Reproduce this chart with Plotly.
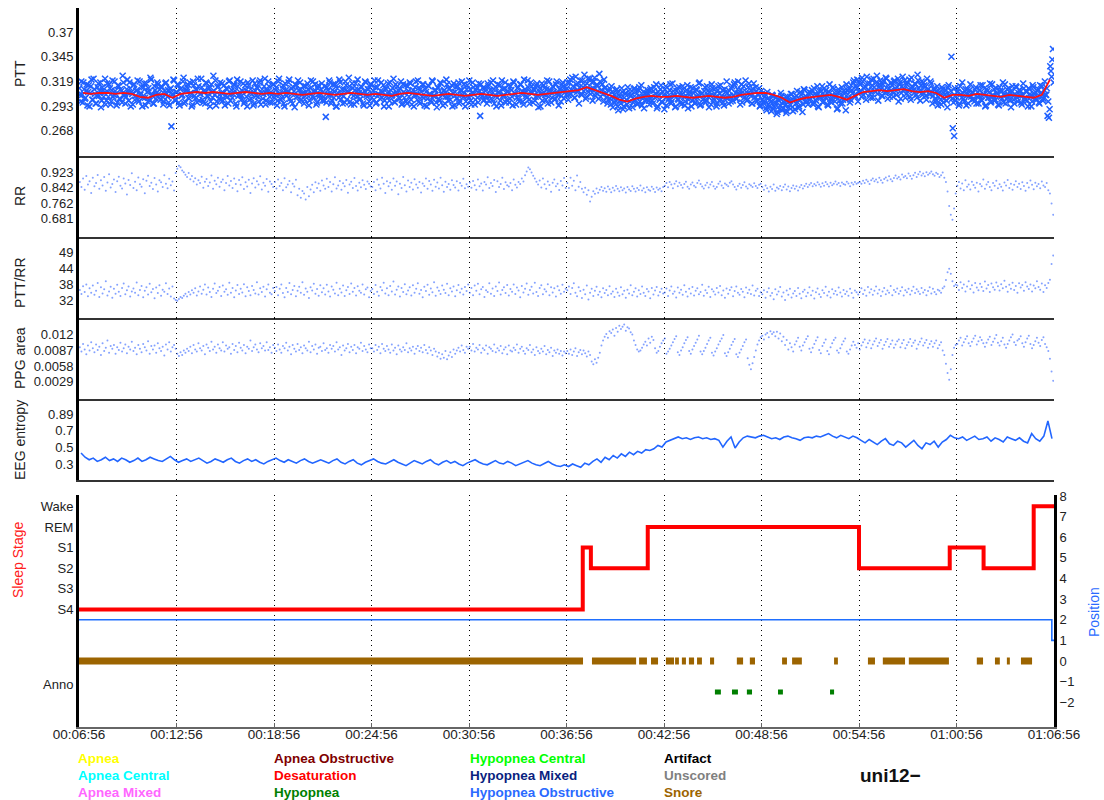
import plotly.graph_objects as go
from datetime import datetime, timedelta

# Recording window: one hour starting at 00:06:56
START = datetime(2000, 1, 1, 0, 6, 56)
SPAN_S = 3600

# Pulse transit time per beat (ms), odd beats
ptt_ms = [
    312,298,305,318,301,309,294,315,307,321,300,311,296,304,317,309,292,313,303,322,299,308,316,295,310,303,319,306,297,314,
    301,309,325,304,296,311,307,318,293,306,315,300,309,320,298,305,313,302,317,294,308,312,299,321,304,296,310,307,316,302,
    300,313,295,309,318,303,297,311,272,306,320,299,308,315,294,312,305,323,298,310,316,301,307,293,319,304,311,297,314,306,
    322,300,309,296,317,303,312,298,308,325,305,294,313,301,318,307,299,315,304,311,296,320,306,302,316,309,293,314,305,319,
    304,317,298,310,293,315,307,301,320,296,309,313,303,318,295,311,306,322,299,308,314,297,305,316,302,310,294,319,307,300,
    312,296,317,304,309,321,298,306,313,292,315,303,310,318,300,307,296,314,305,311,299,320,303,309,316,295,312,306,301,317,
    308,299,282,313,305,318,296,310,302,316,293,307,321,300,311,304,297,315,309,323,298,306,312,295,317,303,310,300,314,307,
    294,319,305,311,298,316,302,309,320,296,313,306,301,318,308,293,312,304,317,299,310,305,322,297,308,314,302,311,295,316,
    302,315,296,309,318,300,307,293,313,305,320,298,311,303,316,294,308,301,314,306,297,319,304,310,292,312,299,317,305,309,
    296,321,303,311,300,315,307,294,313,302,318,298,309,305,316,293,311,304,320,299,307,313,295,310,302,317,283,306,312,300,
    309,296,314,303,318,300,311,305,293,316,307,299,320,304,312,297,308,315,301,310,294,318,306,302,313,298,316,309,295,311,
    304,320,300,308,314,297,310,303,317,292,312,306,299,315,305,311,296,319,308,302,313,300,316,307,294,311,304,318,301,310,
    312,300,318,306,323,309,302,316,310,296,320,305,313,326,301,317,308,322,311,299,319,304,315,309,327,303,316,298,312,307,
    296,309,301,314,292,305,299,311,289,303,296,308,293,306,300,313,291,304,309,297,312,302,295,310,298,315,303,291,307,300,
    306,295,312,299,309,302,316,293,305,311,298,308,290,314,303,300,310,296,317,304,292,309,301,313,297,306,311,294,304,315,
    300,308,293,312,302,297,310,305,318,295,307,301,313,299,309,292,304,316,298,311,303,296,314,306,300,310,294,308,319,302,
    309,298,314,304,318,301,311,306,295,316,308,302,320,299,313,305,310,296,317,303,309,300,312,294,306,298,303,291,308,295,
    300,288,304,293,297,285,301,290,307,289,298,294,286,303,292,299,306,288,302,296,309,291,300,305,287,311,298,303,295,308,
    301,310,295,306,299,314,292,304,309,297,312,302,307,294,316,300,305,311,298,303,291,308,296,313,300,306,289,310,302,297,
    315,307,320,303,312,298,318,309,323,305,314,300,317,310,306,321,302,313,308,325,299,316,311,304,319,307,322,301,312,309,
    315,303,320,309,313,298,318,307,324,311,302,316,308,321,300,314,310,317,305,326,312,299,319,308,315,304,322,311,306,317,
    296,312,301,309,294,307,300,313,297,305,310,292,315,303,345,270,262,299,308,312,296,306,318,301,309,294,311,304,316,300,
    307,298,313,303,296,310,300,315,305,293,311,302,308,297,316,304,299,312,306,294,309,301,318,305,296,311,303,308,292,314,
    300,306,313,298,310,304,295,317,302,309,299,312,306,293,315,303,308,300,311,296,307,314,301,319,305,283,281,335,324,353,
]

# Pulse transit time per beat (ms), even beats
ptt_ms_even = [
    305,319,297,311,302,316,308,293,314,300,322,306,296,313,304,318,299,310,307,295,317,303,312,298,320,305,309,294,315,301,
    311,297,318,306,303,321,299,312,308,295,316,304,310,300,319,307,293,313,302,317,298,309,323,305,296,314,301,318,306,311,
    314,303,298,317,306,310,294,312,305,321,300,308,316,297,311,304,319,296,309,313,302,318,307,295,315,301,310,322,299,306,
    313,297,308,318,304,311,293,316,302,309,320,298,314,305,300,317,307,294,312,303,319,299,310,306,315,296,321,304,308,300,
    309,296,315,303,318,300,311,306,294,317,304,312,298,320,307,301,314,295,310,319,303,308,297,316,305,313,299,322,306,302,
    315,293,310,307,318,301,312,296,309,316,303,320,298,311,305,314,300,308,317,294,312,306,319,302,309,297,315,304,311,299,
    303,314,297,310,320,305,299,316,308,293,312,302,318,306,296,311,319,300,308,314,295,317,304,310,298,321,307,301,313,296,
    309,318,303,311,294,316,306,300,313,297,320,305,309,302,315,299,311,307,293,318,304,312,298,316,306,310,301,319,296,308,
    307,298,314,303,317,295,310,305,319,300,312,296,308,316,302,311,293,315,306,299,320,304,309,297,313,301,318,307,294,310,
    303,316,299,312,305,293,317,308,301,314,296,310,319,303,307,298,315,302,311,295,318,306,300,313,297,309,316,304,299,312,
    304,317,299,310,306,320,296,313,302,308,315,294,311,305,318,300,309,297,314,303,319,307,295,312,301,316,306,298,321,308,
    302,313,296,318,307,311,299,315,304,309,293,317,306,312,300,320,303,310,297,314,308,301,319,305,311,298,316,309,313,305,
    318,305,321,310,314,302,324,308,317,313,306,320,309,315,303,322,311,306,318,312,323,307,314,301,319,310,306,321,313,303,
    300,312,295,308,302,297,310,293,305,299,312,290,302,307,295,309,298,304,292,311,300,306,296,313,303,294,308,299,305,310,
    299,310,303,296,313,306,291,308,300,315,297,305,311,294,307,302,316,298,309,304,293,312,300,306,295,314,303,298,310,291,
    305,313,299,307,296,311,302,317,294,306,300,309,297,314,303,308,295,312,301,306,293,310,299,315,304,297,311,302,307,296,
    304,312,299,316,307,301,319,305,310,297,314,303,308,300,317,306,296,311,302,313,298,305,293,309,300,296,306,289,301,293,
    298,305,290,296,302,287,299,294,304,291,297,303,288,300,295,306,292,299,290,304,297,293,308,301,295,310,303,298,306,300,
    307,296,312,300,305,293,309,302,314,298,304,310,295,308,301,297,313,303,306,290,311,299,304,296,309,301,316,306,311,300,
    310,318,305,314,321,308,316,303,319,312,307,324,310,317,302,315,322,309,318,306,313,320,304,316,310,323,308,315,303,318,
    308,319,312,305,322,316,301,314,309,320,306,318,311,303,323,313,307,316,302,320,309,315,305,318,313,300,311,306,319,308,
    304,310,298,314,303,308,295,311,301,306,299,313,305,309,301,297,312,303,308,294,314,302,307,298,311,305,296,310,303,308,
    301,311,296,308,304,315,299,306,312,294,309,302,317,298,305,311,300,307,295,313,303,309,297,316,301,306,312,299,308,304,
    296,314,302,307,310,297,305,312,300,308,293,311,304,298,313,306,301,309,297,315,303,299,310,305,312,298,290,330,342,318,
]

# Running PTT trend (ms), one value per 30 s
ptt_trend_ms = [
    307,306,307,307,306,307,306,303,302,305,306,302,
    306,307,308,307,308,307,306,307,308,307,306,307,
    306,307,306,305,306,307,306,305,306,307,306,305,
    306,305,304,306,307,306,305,304,305,306,305,304,
    305,306,305,304,305,306,307,306,305,306,307,308,
    309,310,313,310,307,304,300,298,301,303,304,303,
    303,304,303,302,303,304,303,302,303,305,306,307,
    307,305,302,297,300,302,303,304,305,303,300,304,
    308,309,310,309,310,311,309,308,309,307,302,305,
    305,304,306,305,304,303,305,304,303,302,305,321,
]

# Beat-to-beat RR interval (ms)
rr_ms = [
    871,845,889,832,902,858,876,815,893,849,866,908,837,880,854,897,826,869,912,843,861,884,820,875,899,852,838,890,864,807,
    882,856,917,841,873,829,895,860,847,886,813,878,904,851,867,835,892,858,823,881,870,846,906,862,839,888,855,874,828,918,
    940,956,948,931,922,909,897,918,886,903,874,891,858,880,866,899,842,873,887,851,869,905,836,878,860,893,847,871,884,829,
    866,902,853,877,840,889,861,824,882,857,896,835,870,848,883,815,864,891,843,876,858,901,833,868,852,887,821,874,861,846,
    872,838,885,851,866,829,891,844,859,877,818,862,848,883,803,836,790,825,812,781,846,798,833,857,819,870,841,864,826,879,
    853,837,888,846,871,823,860,896,838,854,877,831,865,849,882,816,858,873,840,892,851,827,868,844,880,857,835,874,862,848,
    846,871,829,884,857,838,893,862,815,876,849,867,831,889,852,874,808,863,841,897,855,823,879,846,868,833,886,859,842,872,
    817,864,851,890,836,877,858,826,883,847,869,838,894,855,821,873,845,861,832,881,856,843,875,827,866,852,888,839,860,847,
    869,842,877,855,831,885,849,864,827,872,858,896,840,866,851,882,820,875,846,861,893,835,870,855,848,866,829,884,857,843,
    872,861,889,874,907,926,946,938,921,904,889,873,858,879,843,890,860,837,874,856,821,868,884,849,863,830,877,854,892,841,
    866,841,893,852,878,829,905,847,871,836,818,842,806,829,771,795,824,811,838,816,832,845,826,839,821,848,834,819,842,827,
    851,836,824,844,829,838,817,846,833,825,849,837,822,841,830,853,827,839,818,844,832,826,847,835,820,843,831,838,824,846,
    852,866,844,871,858,839,863,875,849,868,856,842,861,873,847,836,858,869,852,844,866,879,861,848,838,855,867,843,859,872,
    850,837,846,862,874,853,841,864,857,849,868,876,859,845,833,851,863,842,856,870,848,838,860,854,846,865,851,840,857,862,
    846,831,854,839,822,847,835,858,826,843,837,851,829,845,859,833,848,824,841,853,836,849,827,844,856,838,851,863,845,857,
    866,849,861,854,870,858,847,865,852,871,860,848,867,855,862,874,858,866,851,869,861,857,873,864,850,868,859,872,863,868,
    871,862,878,866,883,874,861,880,889,876,884,870,893,881,868,887,895,879,901,886,875,892,905,889,898,884,910,896,903,891,
    915,902,888,907,919,898,911,924,905,916,901,922,909,917,926,912,904,920,913,898,907,921,894,871,823,748,702,676,735,812,
    852,871,838,864,829,880,847,859,833,873,856,842,867,823,861,849,884,836,858,871,845,829,866,852,878,839,860,847,827,869,
    854,882,840,863,831,857,875,846,862,835,870,851,826,866,843,879,857,834,868,849,861,839,874,853,845,866,829,812,760,702,
]

# PTT / RR ratio (per mille of RR, shown in percent)
ptt_rr_permille = [
    362,348,375,355,381,340,368,352,377,345,359,386,338,371,350,364,392,343,357,373,335,366,349,380,356,341,369,384,347,361,
    374,339,357,367,352,388,344,362,376,337,359,371,346,383,354,365,333,370,351,378,342,363,356,385,348,367,339,374,332,327,
    325,331,338,334,342,349,339,355,346,361,352,368,343,357,374,349,363,381,346,370,355,338,366,384,351,359,372,341,377,356,
    364,345,387,352,369,337,360,379,348,366,353,382,340,371,358,344,376,362,350,389,346,368,355,373,339,364,381,352,347,369,
    358,372,344,366,381,351,337,369,355,386,347,362,376,340,359,373,352,389,345,367,356,334,371,360,383,349,365,342,378,354,
    368,346,380,357,339,374,363,350,387,344,366,353,377,341,361,372,348,384,356,369,343,375,359,352,381,346,364,370,337,358,
    365,348,379,356,342,372,361,387,350,368,344,376,357,391,346,363,374,339,369,355,382,347,360,371,343,378,352,366,385,349,
    362,337,373,358,380,345,367,354,389,342,370,359,348,377,363,351,383,344,368,357,374,340,361,379,353,366,346,372,358,381,
    352,369,344,377,359,383,347,364,372,338,361,355,385,349,367,341,374,358,388,346,362,371,351,379,343,365,356,381,348,370,
    360,337,376,353,366,384,345,362,373,350,387,355,341,369,378,347,364,357,382,344,371,353,368,339,375,361,349,380,356,366,
    361,374,348,369,385,352,340,371,358,334,363,347,377,329,352,366,341,359,373,345,356,337,368,351,362,344,375,349,357,338,
    366,353,342,371,347,359,335,363,350,378,344,356,368,339,361,348,374,352,341,365,357,333,369,346,360,372,343,355,366,350,
    353,367,341,360,374,349,357,336,370,352,363,345,378,356,339,366,350,372,343,359,368,347,355,380,342,361,351,373,338,364,
    357,346,369,353,376,344,360,335,367,349,362,371,340,358,374,352,345,365,356,337,370,351,363,348,377,343,359,366,341,354,
    347,361,335,355,368,342,351,330,364,346,357,372,339,353,327,360,345,366,336,350,358,341,369,349,333,356,363,340,352,371,
    344,359,332,354,367,347,338,361,351,373,343,356,336,364,349,358,345,370,353,339,362,348,357,342,366,351,335,360,354,346,
    356,368,348,361,342,372,353,364,345,359,374,350,363,341,357,369,347,360,352,376,344,362,355,367,349,358,371,343,361,354,
    366,346,359,373,351,364,357,348,369,353,362,344,358,371,350,366,355,347,363,359,352,368,374,396,423,435,418,392,376,381,
    377,362,389,369,381,357,374,392,365,378,353,386,370,361,383,372,358,391,367,379,355,384,371,363,388,375,360,382,368,394,
    373,356,380,366,387,362,376,352,385,370,379,359,389,374,365,381,357,377,368,392,372,363,384,355,378,369,386,397,452,481,
]

# PPG pulse area (x 1e-4)
ppg_area_e4 = [
    92,84,98,88,79,95,86,101,90,83,97,87,93,78,99,85,91,104,82,94,89,96,80,92,87,100,84,90,97,81,
    93,88,102,85,91,79,96,89,83,98,92,86,103,80,94,88,95,82,99,90,85,93,77,97,88,101,84,92,96,89,
    80,76,83,78,86,82,89,85,93,81,96,88,84,99,90,86,94,79,97,91,85,102,88,93,82,97,90,86,101,84,
    95,89,92,80,98,87,94,83,100,91,86,96,81,93,89,104,85,92,97,88,83,99,90,94,86,101,87,92,82,96,
    91,85,97,88,82,94,90,100,86,93,79,96,89,84,98,87,92,81,95,90,86,102,83,94,88,97,80,91,93,85,
    99,87,90,82,96,89,94,84,101,88,92,78,95,86,90,98,83,93,87,96,81,92,89,100,85,94,88,83,97,90,
    90,84,96,87,93,81,98,89,85,94,88,82,97,86,91,79,95,88,84,92,87,99,83,90,86,93,80,89,94,85,
    91,83,96,87,81,92,86,78,89,84,75,82,71,79,73,85,70,77,83,74,88,80,86,91,84,95,87,82,93,89,
    93,86,98,84,91,88,96,82,90,87,95,80,92,89,85,97,83,90,86,94,81,88,92,79,95,86,84,91,87,97,
    82,89,93,85,80,90,87,96,83,88,78,92,85,81,89,84,94,79,87,83,91,76,86,82,88,80,85,77,84,81,
    85,80,88,78,84,90,76,83,87,79,86,81,75,84,78,66,61,70,64,73,82,95,104,111,116,109,121,118,124,113,
    127,120,131,125,129,133,122,128,126,119,115,104,96,88,84,86,91,97,102,95,108,100,111,105,90,82,85,93,99,104,
    108,80,84,89,95,101,107,112,83,78,86,92,99,105,110,85,80,88,94,100,106,113,84,79,85,91,98,104,109,82,
    77,84,90,97,103,108,114,81,76,83,89,96,102,107,79,74,82,88,94,101,106,72,60,52,63,74,86,97,104,110,
    113,106,115,118,110,121,116,119,112,120,108,117,103,111,96,105,88,99,92,84,97,103,109,93,86,95,101,107,112,89,
    83,91,98,104,110,87,81,94,100,106,85,79,92,99,105,109,86,82,90,97,103,108,84,80,88,95,102,96,91,99,
    88,95,101,106,92,99,104,90,97,103,108,94,100,105,89,96,102,107,93,98,104,91,97,103,106,92,99,105,90,96,
    101,107,94,100,104,89,97,102,108,95,100,105,91,98,103,93,99,104,90,96,101,86,78,62,45,33,52,78,91,96,
    98,104,109,95,101,107,112,99,94,102,108,113,97,103,110,105,99,93,100,106,111,96,102,108,114,100,95,103,109,97,
    91,98,104,110,115,101,96,104,107,112,99,93,101,108,113,98,90,96,103,109,100,94,105,110,98,92,85,71,48,31,
]

# EEG spectral entropy (x 0.01), one value per 15 s
eeg_entropy_pct = [
    43,38,35,37,33,35,38,34,36,33,37,35,32,34,37,33,35,38,36,34,33,36,39,35,32,34,36,33,35,37,
    34,31,33,36,34,32,35,37,33,31,34,36,33,35,32,30,33,35,37,34,32,35,33,31,34,36,33,31,33,35,
    33,31,34,36,32,30,33,35,31,29,32,34,36,33,31,30,33,35,32,30,28,31,34,32,30,33,35,31,29,32,
    34,31,33,30,28,31,33,35,32,30,29,32,34,31,30,33,31,28,30,32,34,31,29,28,31,33,30,28,27,29,
    27,30,28,26,31,29,33,36,32,38,35,40,37,42,39,44,41,45,43,47,46,48,52,50,56,58,60,62,60,61,
    59,61,62,60,61,59,60,58,50,57,62,49,56,61,63,62,61,63,64,62,60,61,59,62,63,61,60,58,61,62,
    61,63,62,64,66,63,61,64,62,60,63,61,58,55,59,56,53,57,60,54,52,57,55,50,54,58,52,48,55,53,
    57,50,56,59,64,61,60,62,58,61,63,59,60,62,57,61,59,56,62,60,58,61,57,55,66,60,57,63,81,60,
]

# Hypnogram (seconds from start)
stage_names = ["S4", "S1", "S2", "REM", "S2", "S1", "S2", "Wake"]
stage_start_s = [0, 1860, 1890, 2100, 2880, 3215, 3340, 3525]
stage_axis_labels = ["Wake", "REM", "S1", "S2", "S3", "S4", "Anno"]

# Body position channel
position_values = [2, 1]
position_start_s = [0, 3592]

# Scored events (seconds from start)
snore_start_s = [0, 1894, 2068, 2112, 2167, 2201, 2226, 2252, 2282, 2330, 2429, 2477, 2596, 2633, 2788, 2913, 2968, 3064, 3315, 3382, 3426, 3478]
snore_end_s = [1861, 2057, 2097, 2138, 2197, 2215, 2241, 2271, 2300, 2345, 2452, 2496, 2614, 2669, 2802, 2939, 3050, 3212, 3338, 3400, 3437, 3519]
hypopnea_start_s = [2348, 2411, 2466, 2581, 2773]
hypopnea_end_s = [2370, 2433, 2485, 2599, 2788]

# Event colour key
event_labels = [
    "Apnea", "Apnea Central", "Apnea Mixed",
    "Apnea Obstructive", "Desaturation", "Hypopnea",
    "Hypopnea Central", "Hypopnea Mixed", "Hypopnea Obstructive",
    "Artifact", "Unscored", "Snore",
]
event_colors = [
    "#ffff00", "#00ffff", "#ff66ff",
    "#800000", "#ff0000", "#007f00",
    "#00ff00", "#0a1f80", "#2a6aff",
    "#000000", "#808080", "#9c6400",
]
record_name = "uni12\u2212"

# ---------------------------------------------------------------- helpers
FONT = "Liberation Sans, Arial, sans-serif"
W, H = 1104, 800
X_LEFT, X_RIGHT = 79, 1054


def at(sec):
    return START + timedelta(seconds=sec)


def even_times(n, shift=0.5):
    return [at((i + shift) * SPAN_S / n) for i in range(n)]


def ydom(top_px, bottom_px):
    return [1 - bottom_px / H, 1 - top_px / H]


def boxes(starts, ends, level, half):
    xs, ys = [], []
    for s, e in zip(starts, ends):
        xs += [at(s), at(e), at(e), at(s), at(s), None]
        ys += [level - half, level - half, level + half, level + half, level - half, None]
    return xs, ys


stage_level = {"Wake": 7.5, "REM": 6.5, "S1": 5.5, "S2": 4.5, "S3": 3.5, "S4": 2.5}

fig = go.Figure()

# PTT scatter (both beat streams) and trend
cross = dict(symbol="x-thin", size=6, line=dict(width=1.5, color="#1f60ff"))
fig.add_trace(go.Scatter(x=even_times(len(ptt_ms), 0.25), y=[v / 1000 for v in ptt_ms], mode="markers",
                         marker=cross, xaxis="x2", yaxis="y2", hoverinfo="skip"))
fig.add_trace(go.Scatter(x=even_times(len(ptt_ms_even), 0.75), y=[v / 1000 for v in ptt_ms_even], mode="markers",
                         marker=cross, xaxis="x2", yaxis="y2", hoverinfo="skip"))
fig.add_trace(go.Scatter(
    x=even_times(len(ptt_trend_ms)), y=[v / 1000 for v in ptt_trend_ms], mode="lines",
    line=dict(color="#ff1010", width=1.8), xaxis="x2", yaxis="y2", hoverinfo="skip"))

dot = dict(size=2, color="rgba(50,100,255,0.6)")
fig.add_trace(go.Scatter(x=even_times(len(rr_ms)), y=[v / 1000 for v in rr_ms], mode="markers",
                         marker=dot, xaxis="x3", yaxis="y3", hoverinfo="skip"))
fig.add_trace(go.Scatter(x=even_times(len(ptt_rr_permille)), y=[v / 10 for v in ptt_rr_permille], mode="markers",
                         marker=dot, xaxis="x4", yaxis="y4", hoverinfo="skip"))
fig.add_trace(go.Scatter(x=even_times(len(ppg_area_e4)), y=[v / 10000 for v in ppg_area_e4], mode="markers",
                         marker=dot, xaxis="x5", yaxis="y5", hoverinfo="skip"))
fig.add_trace(go.Scatter(x=even_times(len(eeg_entropy_pct)), y=[v / 100 for v in eeg_entropy_pct], mode="lines",
                         line=dict(color="#2266ff", width=1.6), xaxis="x6", yaxis="y6", hoverinfo="skip"))

# Bottom panel: events, position, hypnogram
sx, sy = boxes(snore_start_s, snore_end_s, 0, 0.17)
fig.add_trace(go.Scatter(x=sx, y=sy, mode="lines", fill="toself", fillcolor="#9c6400",
                         line=dict(width=0, color="#9c6400"), xaxis="x", yaxis="y", hoverinfo="skip"))
hx, hy = boxes(hypopnea_start_s, hypopnea_end_s, -1.5, 0.12)
fig.add_trace(go.Scatter(x=hx, y=hy, mode="lines", fill="toself", fillcolor="#007f00",
                         line=dict(width=0, color="#007f00"), xaxis="x", yaxis="y", hoverinfo="skip"))
fig.add_trace(go.Scatter(
    x=[at(s) for s in position_start_s] + [at(SPAN_S)],
    y=position_values + [position_values[-1]], mode="lines", line=dict(color="#1f6fff", width=1.6, shape="hv"),
    xaxis="x", yaxis="y", hoverinfo="skip"))
fig.add_trace(go.Scatter(
    x=[at(s) for s in stage_start_s] + [at(SPAN_S)],
    y=[stage_level[n] for n in stage_names] + [stage_level[stage_names[-1]]],
    mode="lines", line=dict(color="#ff0000", width=4, shape="hv"), xaxis="x", yaxis="y", hoverinfo="skip"))

# ---------------------------------------------------------------- axes
xdom = [X_LEFT / W, X_RIGHT / W]
tickfont = dict(family=FONT, size=13, color="#222222")
grid = dict(showgrid=True, gridcolor="#000000", gridwidth=1, griddash="1px,4px",
            tick0=START, dtick=360000, type="date", automargin=False)

layout = dict(
    width=W, height=H, margin=dict(l=0, r=0, t=0, b=0, autoexpand=False),
    paper_bgcolor="white", plot_bgcolor="white", showlegend=False,
    font=dict(family=FONT, size=13, color="#222222"),
)

layout["xaxis"] = dict(domain=xdom, anchor="y", range=[START, at(SPAN_S)], tickformat="%H:%M:%S",
                       showline=True, linecolor="#666666", linewidth=2, ticks="inside", ticklen=4,
                       tickcolor="#666666", tickfont=dict(family=FONT, size=13.5, color="#222222"),
                       ticklabelstandoff=-6, zeroline=False, **grid)

panels = [(8, 156), (156, 237), (237, 318), (318, 399), (399, 480)]
yspecs = [
    dict(range=[0.241, 0.396], tickvals=[0.268, 0.293, 0.319, 0.345, 0.37],
         ticktext=["0.268", "0.293", "0.319", "0.345", "0.37"]),
    dict(range=[0.587, 1.006], tickvals=[0.681, 0.762, 0.842, 0.923],
         ticktext=["0.681", "0.762", "0.842", "0.923"]),
    dict(range=[26.5, 54.5], tickvals=[32.4, 38.0, 43.7, 49.3], ticktext=["32", "38", "44", "49"]),
    dict(range=[-0.0002, 0.0145], tickvals=[0.0029, 0.0058, 0.0087, 0.0116],
         ticktext=["0.0029", "0.0058", "0.0087", "0.012"]),
    dict(range=[0.11, 1.07], tickvals=[0.3, 0.497, 0.694, 0.891], ticktext=["0.3", "0.5", "0.7", "0.89"]),
]
for i, ((top, bot), spec) in enumerate(zip(panels, yspecs), start=2):
    layout[f"xaxis{i}"] = dict(domain=xdom, anchor=f"y{i}", matches="x", showticklabels=False,
                               showline=True, linecolor="#333333", linewidth=1.5, ticks="",
                               zeroline=False, **grid)
    layout[f"yaxis{i}"] = dict(domain=ydom(top, bot), anchor=f"x{i}", showgrid=False, zeroline=False,
                               showline=True, linecolor="#000000", linewidth=3, ticks="",
                               automargin=False, tickmode="array", tickfont=tickfont, **spec)

bottom_range = [-3.2, 8.05]
layout["yaxis"] = dict(domain=ydom(495, 727), anchor="x", range=bottom_range, showgrid=False, zeroline=False,
                       showline=True, linecolor="#000000", linewidth=3, ticks="", tickfont=tickfont,
                       automargin=False, tickmode="array", tickvals=[7.5, 6.5, 5.5, 4.5, 3.5, 2.5, -1.15],
                       ticktext=stage_axis_labels)
layout["yaxis7"] = dict(domain=ydom(495, 727), anchor="x", overlaying="y", side="right", range=bottom_range,
                        showgrid=False, zeroline=False, showline=True, linecolor="#000000", linewidth=3,
                        automargin=False, ticks="", tickfont=tickfont, tickmode="array",
                        tickvals=list(range(-2, 9)))

fig.update_layout(**layout)
# empty trace so the right-hand position axis is drawn
fig.add_trace(go.Scatter(x=[], y=[], xaxis="x", yaxis="y7", hoverinfo="skip"))

# ---------------------------------------------------------------- titles and key
titles = [("PTT", 74), ("RR", 196), ("PTT/RR", 283), ("PPG area", 358), ("EEG entropy", 440)]
for text, ypx in titles:
    fig.add_annotation(text=text, xref="paper", yref="paper", x=20 / W, y=1 - ypx / H, textangle=-90,
                       showarrow=False, xanchor="center", yanchor="middle",
                       font=dict(family=FONT, size=14, color="#222222"))
fig.add_annotation(text="Sleep Stage", xref="paper", yref="paper", x=18 / W, y=1 - 560 / H, textangle=-90,
                   showarrow=False, xanchor="center", yanchor="middle",
                   font=dict(family=FONT, size=14, color="#ff2020"))
fig.add_annotation(text="Position", xref="paper", yref="paper", x=1094 / W, y=1 - 612 / H, textangle=-90,
                   showarrow=False, xanchor="center", yanchor="middle",
                   font=dict(family=FONT, size=14, color="#2a6aff"))

col_x = [76, 272, 468, 662]
row_y = [758, 775, 792]
for k, (label, color) in enumerate(zip(event_labels, event_colors)):
    fig.add_annotation(text=f"<b>{label}</b>", xref="paper", yref="paper",
                       x=col_x[k // 3] / W, y=1 - row_y[k % 3] / H, showarrow=False,
                       xanchor="left", yanchor="middle", font=dict(family=FONT, size=13.5, color=color))
fig.add_annotation(text=f"<b>{record_name}</b>", xref="paper", yref="paper", x=858 / W, y=1 - 775 / H,
                   showarrow=False, xanchor="left", yanchor="middle",
                   font=dict(family=FONT, size=19, color="#111111"))

fig.write_html("out.html")
